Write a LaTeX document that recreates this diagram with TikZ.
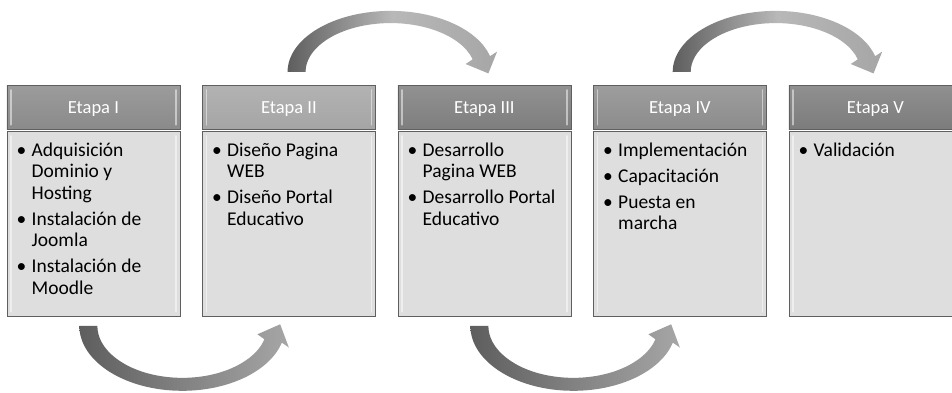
\documentclass[tikz,border=0pt]{standalone}
\usepackage{fontspec}
\setmainfont{Carlito}
\usetikzlibrary{calc}

\definecolor{edge}{HTML}{5F5F5F}
\definecolor{bodyfill}{HTML}{DEDEDE}
\definecolor{hdrI}{HTML}{8A8A8A}
\definecolor{hdrII}{HTML}{A5A5A5}
\definecolor{hdrIII}{HTML}{7E7E7E}
\definecolor{hdrIV}{HTML}{8C8C8C}
\definecolor{hdrV}{HTML}{7C7C7C}
\definecolor{arrowdark}{HTML}{5E5E5E}
\definecolor{arrowlight}{HTML}{A6A6A6}
\definecolor{arrowmidlow}{HTML}{828282}
\definecolor{arrowmidhigh}{HTML}{B8B8B8}

% bullet list with hanging indent and forced line breaks
\newcommand\stagebullet{\makebox[15pt][l]{•}}
\newcommand\bitem[1]{\hangindent=15pt\hangafter=1\noindent\stagebullet#1\par}
\newcommand\bsep{\vspace{4.4pt}}
\newcommand\stagelist[1]{\parbox[t]{160pt}{\fontsize{19.5}{21.6}\selectfont#1}}

\tikzset{
  stagehead/.style={draw=edge, line width=0.8pt, anchor=north west,
    minimum width=173pt, minimum height=44pt, inner sep=0pt, text=white,
    font=\fontsize{18.5}{20}\selectfont, text height=12pt, text depth=0pt},
  stagebody/.style={draw=edge, line width=0.8pt, fill=bodyfill, anchor=north west,
    minimum width=173pt, minimum height=185pt, inner sep=0pt},
  stagetext/.style={anchor=base west, inner sep=0pt, text=black},
  glint/.style={white, opacity=0.5, line width=1.6pt, line cap=round},
  % thick curved arrow: U-shaped band with a head on its right end
  bend arrow/.pic={
    \shade[left color=arrowdark, right color=arrowlight, middle color=#1]
      (-103,0) arc[start angle=180, end angle=345, x radius=103, y radius=65]
      -- (106.5,-21.7) -- (97.8,1.5) -- (75.1,-8.5) -- (82.1,-13.5)
      arc[start angle=345, end angle=180, x radius=85, y radius=52] -- cycle;
  }
}

\begin{document}
\begin{tikzpicture}[x=1pt, y=1pt]
\useasboundingbox (0,0) rectangle (952,392);
\fill[white] (0,0) rectangle (952,392);
\clip (0,0) rectangle (952,392);

% stage headers
\node[stagehead, top color=hdrI!85!white, bottom color=hdrI] (h1) at (6.5,307) {Etapa I};
\node[stagehead, top color=hdrII!85!white, bottom color=hdrII] (h2) at (202,307) {Etapa II};
\node[stagehead, top color=hdrIII!85!white, bottom color=hdrIII] (h3) at (397.5,307) {Etapa III};
\node[stagehead, top color=hdrIV!85!white, bottom color=hdrIV] (h4) at (593,307) {Etapa IV};
\node[stagehead, top color=hdrV!85!white, bottom color=hdrV] (h5) at (788.5,307) {Etapa V};

% stage bodies
\node[stagebody] (b1) at (6.5,261) {};
\node[stagebody] (b2) at (202,261) {};
\node[stagebody] (b3) at (397.5,261) {};
\node[stagebody] (b4) at (593,261) {};
\node[stagebody] (b5) at (788.5,261) {};

% bevel highlights
\foreach \n in {h1,h2,h3,h4,h5,b1,b2,b3,b4,b5}{
  \draw[glint] ([shift={(4.5pt,-5pt)}]\n.north west) -- ([shift={(4.5pt,5pt)}]\n.south west);
  \draw[glint] ([shift={(-4.5pt,-5pt)}]\n.north east) -- ([shift={(-4.5pt,5pt)}]\n.south east);
}

% stage contents
\node[stagetext] (t1) at ([shift={(10pt,-25pt)}]b1.north west)
  {\stagelist{\bitem{Adquisición\\Dominio y\\Hosting}\bsep\bitem{Instalación de\\Joomla}\bsep\bitem{Instalación de\\Moodle}}};
\node[stagetext] (t2) at ([shift={(10pt,-25pt)}]b2.north west)
  {\stagelist{\bitem{Diseño Pagina\\WEB}\bsep\bitem{Diseño Portal\\Educativo}}};
\node[stagetext] (t3) at ([shift={(10pt,-25pt)}]b3.north west)
  {\stagelist{\bitem{Desarrollo\\Pagina WEB}\bsep\bitem{Desarrollo Portal\\Educativo}}};
\node[stagetext] (t4) at ([shift={(10pt,-25pt)}]b4.north west)
  {\stagelist{\bitem{Implementación}\bsep\bitem{Capacitación}\bsep\bitem{Puesta en\\marcha}}};
\node[stagetext] (t5) at ([shift={(10pt,-25pt)}]b5.north west)
  {\stagelist{\bitem{Validación}}};

% curved arrows between stages
\pic at ($(b1.south)!0.455!(b2.south)+(0,-9)$) {bend arrow=arrowmidlow};
\pic[yscale=-0.94] at ($(h2.north)!0.52!(h3.north)+(0,13)$) {bend arrow=arrowmidhigh};
\pic at ($(b3.south)!0.455!(b4.south)+(0,-9)$) {bend arrow=arrowmidlow};
\pic[yscale=-0.94] at ($(h4.north)!0.49!(h5.north)+(0,13)$) {bend arrow=arrowmidhigh};
\end{tikzpicture}
\end{document}
